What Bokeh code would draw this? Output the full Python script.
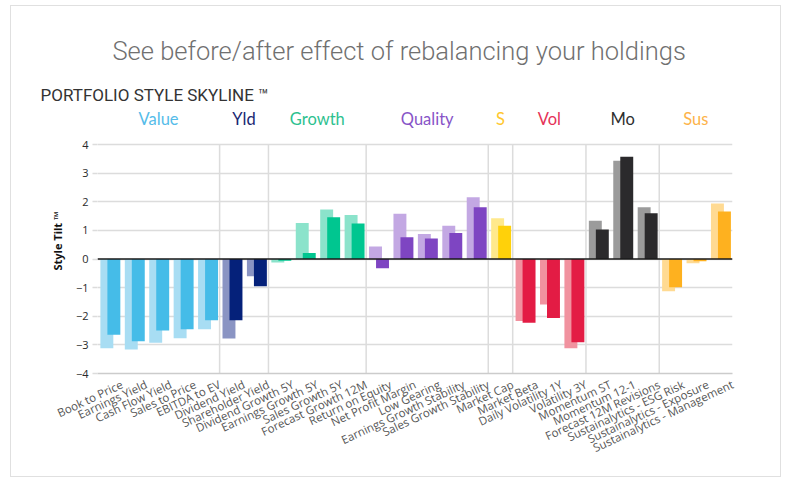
from bokeh.plotting import figure
from bokeh.models import Range1d, FixedTicker, Span, Label, ColumnDataSource, Title
from bokeh.embed import file_html
from bokeh.resources import INLINE
import math

categories = ["Book to Price", "Earnings Yield", "Cash Flow Yield", "Sales to Price", "EBITDA to EV",
              "Dividend Yield", "Shareholder Yield",
              "Dividend Growth 5Y", "Earnings Growth 5Y", "Sales Growth 5Y", "Forecast Growth 12M",
              "Return on Equity", "Net Profit Margin", "Low Gearing", "Earnings Growth Stability",
              "Sales Growth Stability",
              "Market Cap",
              "Market Beta", "Daily Volatility 1Y", "Volatility 3Y",
              "Momentum ST", "Momentum 12-1", "Forecast 12M Revisions",
              "Sustainalytics - ESG Risk", "Sustainalytics - Exposure", "Sustainalytics - Management"]

before = [-3.12, -3.16, -2.93, -2.77, -2.45,
          -2.78, -0.60,
          -0.12, 1.26, 1.73, 1.54,
          0.44, 1.58, 0.87, 1.16, 2.16,
          1.42,
          -2.17, -1.59, -3.12,
          1.34, 3.43, 1.81,
          -1.13, -0.15, 1.94]

after = [-2.65, -2.87, -2.50, -2.45, -2.14,
         -2.14, -0.95,
         -0.06, 0.21, 1.46, 1.24,
         -0.32, 0.76, 0.72, 0.91, 1.81,
         1.16,
         -2.23, -2.06, -2.91,
         1.03, 3.57, 1.60,
         -0.99, -0.08, 1.66]

groups = ["Value", "Yld", "Growth", "Quality", "S", "Vol", "Mo", "Sus"]
group_sizes = [5, 2, 4, 5, 1, 3, 3, 3]
group_dark = ["#45BCE8", "#05217A", "#00C690", "#7E45C2", "#FFD10A", "#E31C44", "#2B2A2C", "#FEB11F"]
group_light = ["#A8DDF3", "#8A94C3", "#8BE3CB", "#C3A8E3", "#FFE98C", "#F1929F", "#9B9B9B", "#FFDA92"]
group_label_colors = ["#55BCE9", "#1A2772", "#2DC18F", "#8754C7", "#FFC72C", "#E53358", "#2E2E2E", "#FDB349"]

y_ticks = [-4, -3, -2, -1, 0, 1, 2, 3, 4]

title_text = "See before/after effect of rebalancing your holdings"
subtitle_text = "PORTFOLIO STYLE SKYLINE \u2122"

# per-category colors
dark_cols, light_cols = [], []
for g, n in enumerate(group_sizes):
    dark_cols += [group_dark[g]] * n
    light_cols += [group_light[g]] * n

n = len(categories)
idx = list(range(n))

src = ColumnDataSource(dict(
    xl=[i + 0.383 for i in idx],
    xd=[i + 0.67 for i in idx],
    before=before, after=after,
    lc=light_cols, dc=dark_cols,
))

# frame: top at 108 px, 4 at 144 px, -4 at 373 px  -> extend top of range for the group labels
unit_px = (373 - 144) / 8.0
y_top = 4 + (144 - 108) / unit_px
label_y = 4 + (144 - 118) / unit_px

p = figure(width=771, height=472, output_backend="svg", toolbar_location=None,
           x_range=Range1d(0, n), y_range=Range1d(-4, y_top),
           min_border_left=86, min_border_right=50, min_border_top=102, min_border_bottom=105)
p.styles = {"border": "1px solid #e0e0e0", "margin-left": "10px", "margin-top": "5px"}
p.outline_line_color = None
p.background_fill_color = "white"
p.border_fill_color = "white"

# group separators (vertical grid lines between groups)
bounds = []
acc = 0
for s in group_sizes[:-1]:
    acc += s
    bounds.append(acc)
p.segment(x0=bounds, x1=bounds, y0=min(y_ticks), y1=max(y_ticks), line_color="#dcdcdc", line_width=1.5)

p.vbar(x="xl", top="before", bottom=0, width=0.53, fill_color="lc", line_color=None, source=src)
p.vbar(x="xd", top="after", bottom=0, width=0.53, fill_color="dc", line_color=None, source=src)

# y axis
p.yaxis.ticker = FixedTicker(ticks=y_ticks)
p.ygrid.ticker = FixedTicker(ticks=y_ticks)
p.ygrid.grid_line_color = "#dcdcdc"
p.ygrid.grid_line_width = 1.5
p.xgrid.grid_line_color = None
p.yaxis.axis_line_color = None
p.yaxis.major_tick_line_color = "#dcdcdc"
p.yaxis.major_tick_line_width = 1.5
p.yaxis.major_tick_out = 5
p.yaxis.major_tick_in = 0
p.yaxis.minor_tick_line_color = None
p.yaxis.major_label_standoff = 4
p.yaxis.major_label_text_font = "Open Sans"
p.yaxis.major_label_text_font_size = "11px"
p.yaxis.major_label_text_color = "#2a2a2a"
p.yaxis.axis_label = "Style Tilt \u2122"
p.yaxis.axis_label_text_font = "Open Sans"
p.yaxis.axis_label_text_font_style = "bold"
p.yaxis.axis_label_text_font_size = "11px"
p.yaxis.axis_label_text_color = "#111111"
p.yaxis.axis_label_standoff = 8

# x axis
tick_pos = [i + 1 for i in idx]
p.xaxis.ticker = FixedTicker(ticks=tick_pos)
p.xaxis.major_label_overrides = {i + 1: categories[i] for i in idx}
p.xaxis.major_label_orientation = math.radians(25)
p.xaxis.major_label_text_font = "Open Sans"
p.xaxis.major_label_text_font_size = "11.5px"
p.xaxis.major_label_text_color = "#555555"
p.xaxis.major_label_standoff = 4
p.xaxis.axis_line_color = "#cccccc"
p.xaxis.axis_line_width = 1.5
p.xaxis.major_tick_line_color = None
p.xaxis.minor_tick_line_color = None

p.add_layout(Span(location=0, dimension="width", line_color="#1a1a1a", line_width=1.5))

# group labels
acc = 0
for g, s in enumerate(group_sizes):
    center = acc + s / 2
    acc += s
    p.add_layout(Label(x=center, y=label_y, text=groups[g], text_align="center", text_baseline="middle",
                       text_font="Lato", text_font_size="16.5px", text_color=group_label_colors[g]))

# titles
p.add_layout(Title(text=subtitle_text, align="left", offset=-57, standoff=8,
                   text_font="Roboto", text_font_size="17px", text_font_style="normal",
                   text_color="#333333"), "above")
p.add_layout(Title(text=title_text, align="left", offset=15, standoff=25,
                   text_font="'Roboto Light', Roboto", text_font_size="25.5px", text_font_style="normal",
                   text_color="#707070"), "above")

open("out.html", "w").write(file_html(p, INLINE))
